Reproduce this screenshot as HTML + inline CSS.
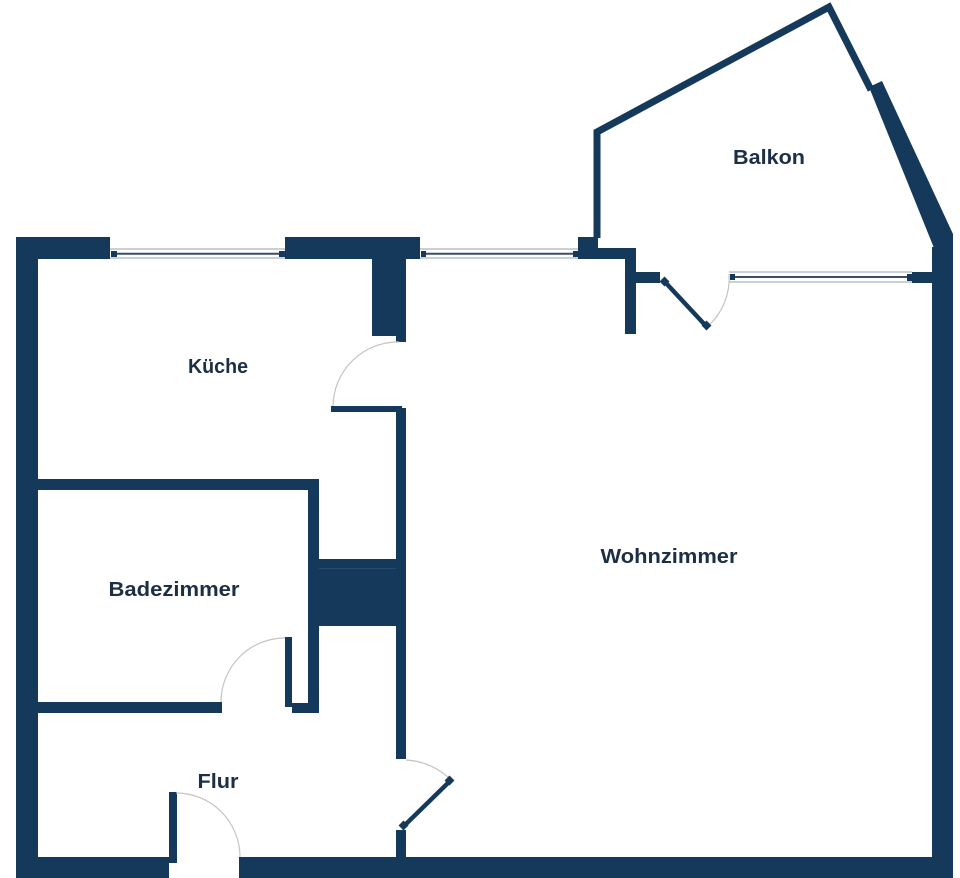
<!DOCTYPE html>
<html><head><meta charset="utf-8"><style>
html,body{margin:0;padding:0;background:#fff;}
svg{display:block;}
text{font-family:"Liberation Sans",sans-serif;font-weight:bold;fill:#1c2f45;font-size:20px;}
</style></head><body>
<svg width="960" height="878" viewBox="0 0 960 878" xmlns="http://www.w3.org/2000/svg">
<g fill="#15395a">
<!-- outer left wall -->
<rect x="16" y="237" width="22" height="641"/>
<!-- top wall segments -->
<rect x="16" y="237" width="94" height="22"/>
<rect x="285" y="237" width="135" height="22"/>
<!-- kitchen stub -->
<rect x="372" y="259" width="25" height="77"/>
<rect x="396" y="259" width="10" height="83"/>
<!-- wall piece at balcony junction -->
<rect x="578" y="237" width="20" height="22"/>
<rect x="578" y="248" width="58" height="11"/>
<rect x="625" y="248" width="11" height="86"/>
<rect x="636" y="272" width="24" height="11"/>
<!-- window 3 right stub -->
<rect x="912" y="272" width="21" height="11"/>
<!-- right wall -->
<rect x="932" y="247" width="21" height="631"/>
<polygon points="869,87 882,81 953,234 953,248 934,248"/>
<!-- bottom wall -->
<rect x="16" y="857" width="153" height="21"/>
<rect x="239" y="857" width="714" height="21"/>
<!-- entry jamb -->
<rect x="169" y="792" width="8" height="71"/>
<!-- kitchen horizontal wall -->
<rect x="331" y="406" width="71" height="6"/>
<!-- central vertical wall -->
<rect x="396" y="408" width="10" height="351"/>
<rect x="396" y="830" width="10" height="30"/>
<!-- bath walls -->
<rect x="38" y="479" width="281" height="11"/>
<rect x="308" y="479" width="11" height="234"/>
<rect x="308" y="559" width="98" height="67"/>
<rect x="38" y="702" width="184" height="11"/>
<rect x="285" y="637" width="7" height="70"/>
<rect x="292" y="703" width="27" height="10"/>
</g>
<rect x="319" y="568" width="77" height="1" fill="#2a4c6c"/>
<!-- balcony thin walls -->
<polyline points="597,238 597,132 829,7 871,90" fill="none" stroke="#15395a" stroke-width="7" stroke-linejoin="miter"/>
<!-- windows -->
<g>
<line x1="110" y1="249" x2="285" y2="249" stroke="#a9b3bd" stroke-width="1.2"/>
<line x1="110" y1="258" x2="285" y2="258" stroke="#a9b3bd" stroke-width="1.2"/>
<line x1="112" y1="253.8" x2="284" y2="253.8" stroke="#3b4e62" stroke-width="2"/>
<rect x="111" y="251" width="6" height="6" fill="#15395a"/>
<rect x="279" y="251" width="6" height="6" fill="#15395a"/>

<line x1="420" y1="249" x2="578" y2="249" stroke="#a9b3bd" stroke-width="1.2"/>
<line x1="420" y1="258" x2="578" y2="258" stroke="#a9b3bd" stroke-width="1.2"/>
<line x1="422" y1="253.8" x2="576" y2="253.8" stroke="#3b4e62" stroke-width="2"/>
<rect x="421" y="251" width="5" height="6" fill="#15395a"/>
<rect x="573" y="251" width="6" height="6" fill="#15395a"/>

<line x1="729" y1="272" x2="912" y2="272" stroke="#a9b3bd" stroke-width="1.2"/>
<line x1="729" y1="282" x2="912" y2="282" stroke="#a9b3bd" stroke-width="1.2"/>
<line x1="731" y1="277" x2="910" y2="277" stroke="#3b4e62" stroke-width="2"/>
<rect x="730" y="274" width="5" height="6" fill="#15395a"/>
<rect x="907" y="274" width="6" height="7" fill="#15395a"/>
</g>
<!-- door arcs -->
<g fill="none" stroke="#c4c4c4" stroke-width="1.2">
<path d="M176,793 A64,64 0 0 1 240,857"/>
<path d="M285,638 A64,64 0 0 0 221,702"/>
<path d="M399,342 A65,65 0 0 0 333,406"/>
<path d="M406,760 A68,68 0 0 1 451,780"/>
<path d="M707,327 A64,64 0 0 0 729,274"/>
</g>
<!-- door leaves -->
<g stroke="#15395a" stroke-width="4.5" stroke-linecap="square">
<line x1="404" y1="826" x2="450" y2="781"/>
<line x1="665" y1="282" x2="706" y2="326"/>
</g>
<g fill="#15395a">
<rect x="400" y="822" width="7" height="7" transform="rotate(-45 403.5 825.5)"/>
<rect x="446" y="777" width="7" height="7" transform="rotate(-45 449.5 780.5)"/>
<rect x="661" y="278" width="7" height="7" transform="rotate(45 664.5 281.5)"/>
<rect x="703" y="322" width="7" height="7" transform="rotate(45 706.5 325.5)"/>
</g>
<!-- labels -->
<text x="218" y="373" text-anchor="middle" textLength="60" lengthAdjust="spacingAndGlyphs">Küche</text>
<text x="769" y="164" text-anchor="middle" textLength="72" lengthAdjust="spacingAndGlyphs">Balkon</text>
<text x="174" y="596" text-anchor="middle" textLength="131" lengthAdjust="spacingAndGlyphs">Badezimmer</text>
<text x="669" y="563" text-anchor="middle" textLength="137" lengthAdjust="spacingAndGlyphs">Wohnzimmer</text>
<text x="218" y="788" text-anchor="middle" textLength="41" lengthAdjust="spacingAndGlyphs">Flur</text>
</svg>
</body></html>
